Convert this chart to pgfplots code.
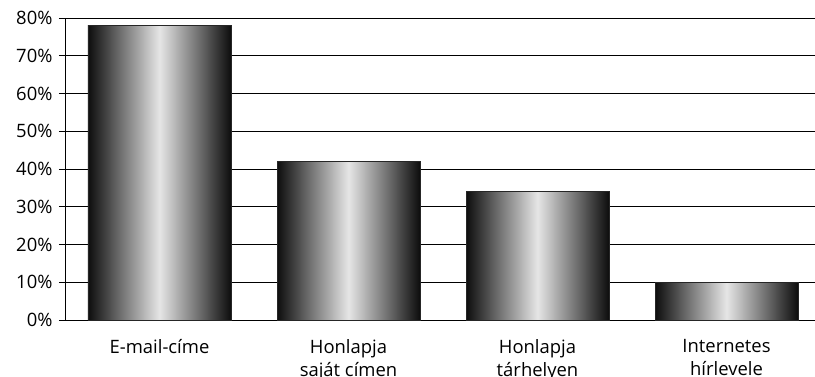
\documentclass[border=0pt]{standalone}
\usepackage{pgfplots}
\pgfplotsset{compat=1.18}
\usepackage{fontspec}
\setmainfont{Open Sans}
\usetikzlibrary{calc}
\begin{document}
\begin{tikzpicture}
\pgfplotsset{mybar/.style={ybar, bar shift=0pt, bar width=143bp, draw=black!85, line width=0.8bp,
    left color=black!95, right color=black!95, middle color=black!10}}
\begin{axis}[name=ax, scale only axis, width=756bp, height=302bp,
  ymin=0, ymax=80, xmin=-0.5, xmax=3.5,
  axis x line*=bottom, axis y line*=left,
  axis line style={black, line width=0.9bp},
  ytick={0,10,...,80},
  yticklabels={0\%,10\%,20\%,30\%,40\%,50\%,60\%,70\%,80\%},
  ymajorgrids, grid style={black, line width=0.9bp},
  tick align=outside, major tick length=6bp,
  tick style={black, line width=0.9bp},
  xtick={0,1,2,3},
  xticklabels={E-mail-címe, Honlapja\\saját címen, Honlapja\\tárhelyen, Internetes\\hírlevele},
  x tick style={draw=none},
  extra x ticks={-0.5,0.5,1.5,2.5,3.5},
  extra x tick labels={},
  extra x tick style={tick style={draw=black, line width=0.9bp}, major tick length=6bp},
  xticklabel style={align=center, font=\fontsize{18.5}{23}\selectfont, yshift=-10bp},
  yticklabel style={font=\fontsize{18.5}{20}\selectfont, xshift=-3bp},
  clip=false,
]
\addplot[mybar] coordinates {(0,78)};
\addplot[mybar] coordinates {(1,42)};
\addplot[mybar] coordinates {(2,34)};
\addplot[mybar] coordinates {(3,10)};
\end{axis}
\pgfresetboundingbox
\path[use as bounding box] ($(ax.south west)+(-65bp,-57bp)$) rectangle ($(ax.south west)+(750bp,320bp)$);
\end{tikzpicture}
\end{document}
